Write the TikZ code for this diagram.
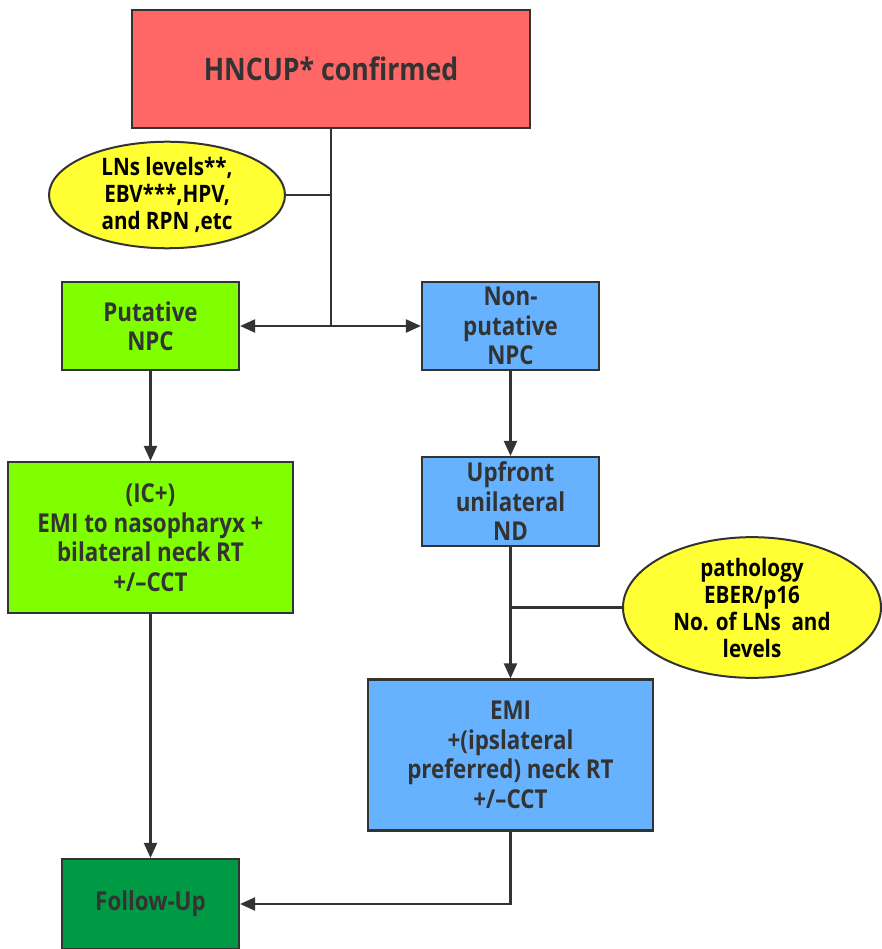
\documentclass[tikz,border=0pt]{standalone}
\usepackage{fontspec}
\setmainfont{Open Sans}[FakeStretch=0.86]
\usetikzlibrary{arrows.meta,shapes.geometric}
\definecolor{boxred}{HTML}{FF6666}
\definecolor{boxlime}{HTML}{80FF00}
\definecolor{boxblue}{HTML}{66B2FF}
\definecolor{boxdark}{HTML}{009944}
\definecolor{ellyel}{HTML}{FFFF33}
\definecolor{ink}{HTML}{333333}
\tikzset{
  box/.style={draw=ink,line width=2.2pt,rectangle,align=center,text=ink,
    font=\bfseries\fontsize{26}{29.5}\selectfont,inner sep=0pt},
  note/.style={draw=ink,line width=2pt,ellipse,fill=ellyel,align=center,text=black,
    font=\bfseries\fontsize{24}{27}\selectfont,inner sep=0pt},
  conn/.style={draw=ink,line width=2.2pt},
  arr/.style={conn,-{Triangle[length=15pt,width=13pt]}},
}
\begin{document}
\begin{tikzpicture}[x=1pt,y=-1pt]
\useasboundingbox (0,0) rectangle (881,949);
\node[box,fill=boxred,minimum width=398pt,minimum height=118pt,font=\bfseries\fontsize{31}{36}\selectfont] (red) at (331,69) {HNCUP* confirmed};
\node[note,minimum width=236pt,minimum height=100pt] (e1) at (167,195) {LNs levels**,\\EBV***,HPV,\\and RPN ,etc};
\node[box,fill=boxlime,minimum width=177pt,minimum height=88pt] (put) at (150.5,326) {Putative\\NPC};
\node[box,fill=boxblue,minimum width=177pt,minimum height=88pt] (non) at (510.5,326) {Non-\\putative\\NPC};
\node[box,fill=boxlime,minimum width=285pt,minimum height=151pt] (ic) at (150.5,537.5) {(IC+)\\EMI to nasopharyx +\\bilateral neck RT\\+/–CCT};
\node[box,fill=boxblue,minimum width=177pt,minimum height=89pt] (up) at (510.5,501.5) {Upfront\\unilateral\\ND};
\node[note,minimum width=258pt,minimum height=135pt] (e2) at (752,607.5) {pathology\\EBER/p16\\No. of LNs\ \ and\\levels};
\node[box,fill=boxblue,minimum width=285pt,minimum height=151pt] (emi) at (510.5,755) {EMI\\+(ipslateral\\preferred) neck RT\\+/–CCT};
\node[box,fill=boxdark,minimum width=177pt,minimum height=90pt] (fu) at (150.5,904) {Follow-Up};
\coordinate (j1) at (red.south |- put.east);
\coordinate (j2) at (red.south |- e1.east);
\coordinate (j3) at (up.south |- e2.west);
\draw[conn] (red.south) -- (j1);
\draw[conn] (e1.east) -- (j2);
\draw[arr] (j1) -- (put.east);
\draw[arr] (j1) -- (non.west);
\draw[arr] (put.south) -- (ic.north);
\draw[arr] (non.south) -- (up.north);
\draw[arr] (up.south) -- (emi.north);
\draw[conn] (e2.west) -- (j3);
\draw[arr] (ic.south) -- (fu.north);
\draw[arr] (emi.south) |- (fu.east);
\end{tikzpicture}
\end{document}
